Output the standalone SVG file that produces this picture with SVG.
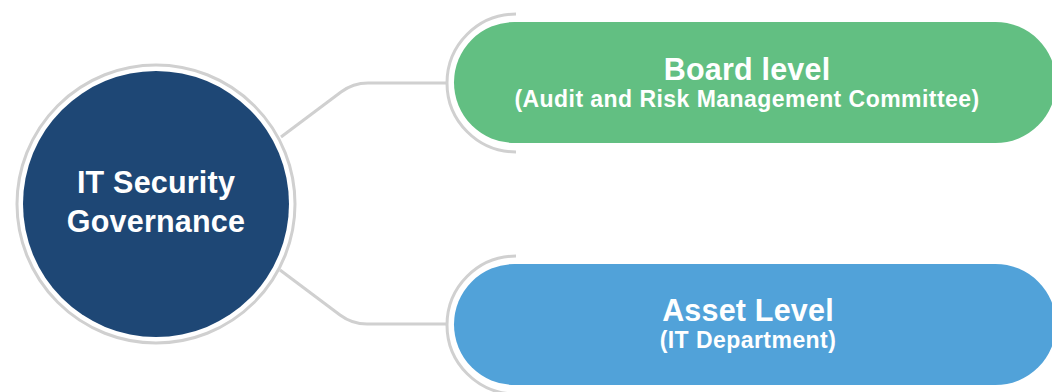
<svg xmlns="http://www.w3.org/2000/svg" width="1052" height="392" viewBox="0 0 1052 392">
  <style>
    .ring { fill: none; stroke: #d0d0d0; stroke-width: 3; }
    .conn { fill: none; stroke: #d0d0d0; stroke-width: 3; stroke-linejoin: round; }
    .t { font-family: "Liberation Sans", Arial, Helvetica, sans-serif; font-weight: bold; fill: #ffffff; text-anchor: middle; }
    .big { font-size: 30.5px; letter-spacing: 0.2px; }
    .small { font-size: 23px; letter-spacing: 0.45px; }
  </style>
  <rect width="1052" height="392" fill="#ffffff"/>
  <g id="connectors">
    <path class="conn" d="M 281 137 L 341 92 Q 353 83 368 83 L 447 83"/>
    <path class="conn" d="M 280 270 L 340 315 Q 352 324 367 324 L 447 324"/>
  </g>
  <g id="node-center">
    <circle class="ring" cx="156" cy="204" r="139"/>
    <circle cx="156" cy="204" r="133" fill="#1e4775"/>
    <text class="t big" x="156" y="193">IT Security</text>
    <text class="t big" x="156" y="232">Governance</text>
  </g>
  <g id="node-board">
    <path class="ring" d="M 516 14 A 69 69 0 0 0 516 152"/>
    <rect x="454" y="22" width="602" height="121" rx="60.5" fill="#62bf82"/>
    <text class="t big" x="747" y="80">Board level</text>
    <text class="t small" x="747" y="107">(Audit and Risk Management Committee)</text>
  </g>
  <g id="node-asset">
    <path class="ring" d="M 516 256 A 69 69 0 0 0 516 394"/>
    <rect x="454" y="264" width="602" height="121" rx="60.5" fill="#51a2d9"/>
    <text class="t big" x="748" y="321">Asset Level</text>
    <text class="t small" x="748" y="348">(IT Department)</text>
  </g>
</svg>
